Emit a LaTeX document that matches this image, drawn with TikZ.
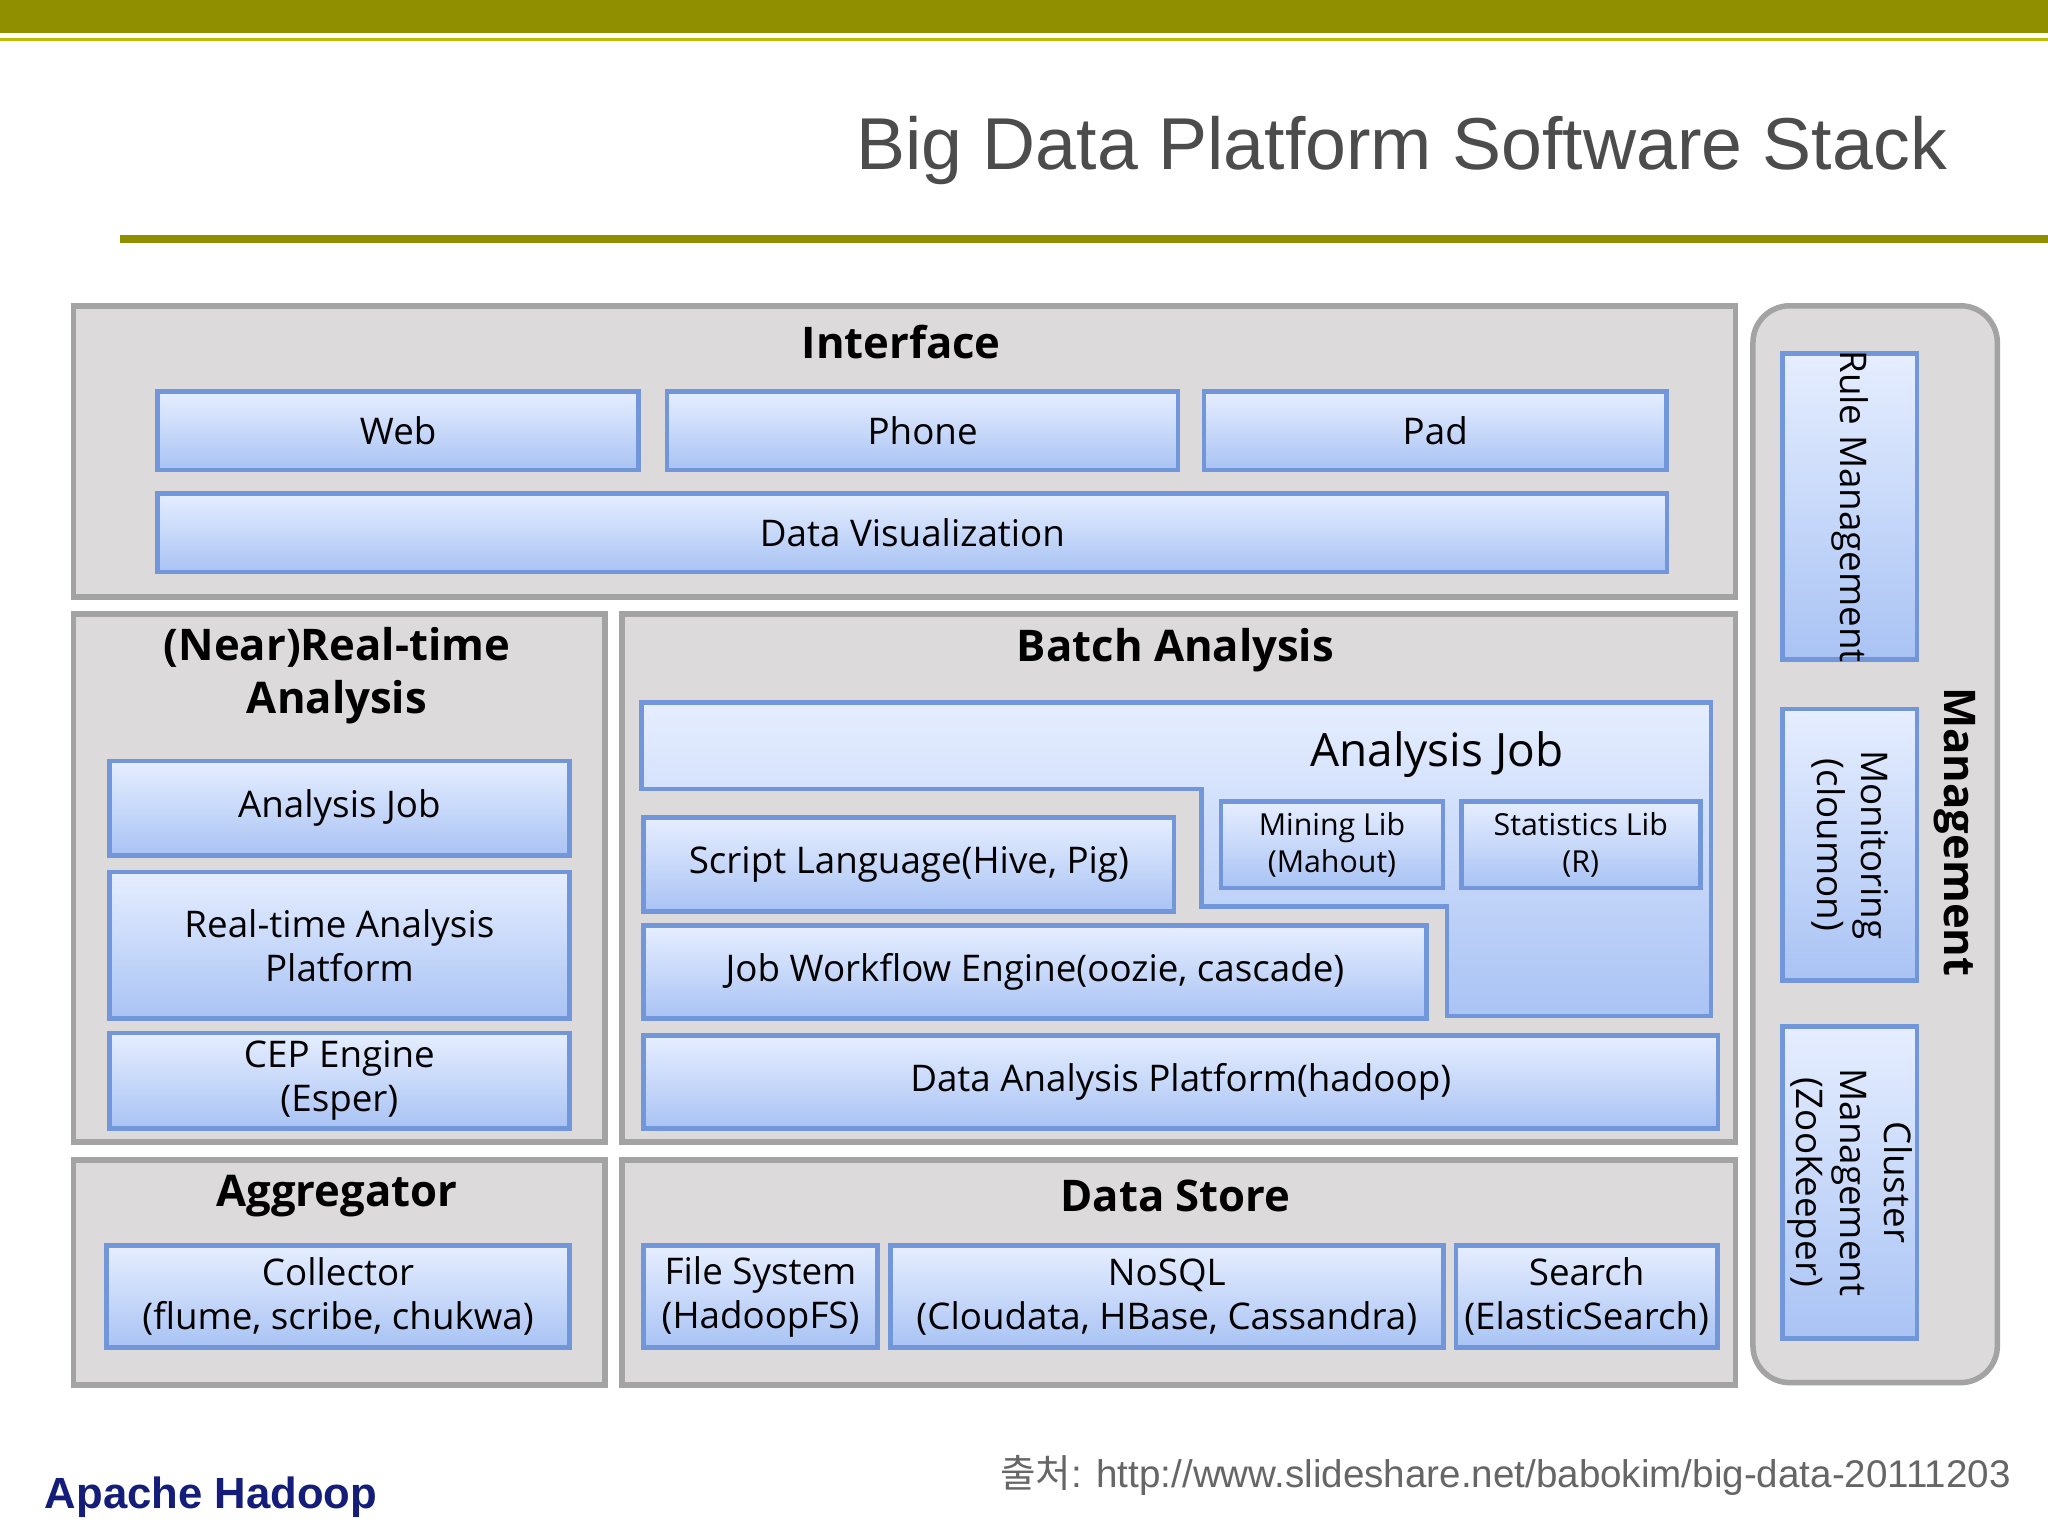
\documentclass[tikz,border=0pt]{standalone}
\usepackage{fontspec}
\setmainfont{Open Sans}
\newfontfamily\titlefont{Liberation Sans}
\newfontfamily\cjkfont{Noto Sans CJK KR}
\definecolor{olive}{HTML}{8F8F00}
\definecolor{panelfill}{HTML}{DCDADA}
\definecolor{panelline}{HTML}{A3A3A3}
\definecolor{boxtop}{HTML}{E6EEFF}
\definecolor{boxbot}{HTML}{A9C3F4}
\definecolor{boxline}{HTML}{7196DA}
\definecolor{navy}{HTML}{141E7A}
\tikzset{
 panel/.style={draw=panelline, line width=1.2pt, fill=panelfill, anchor=north west, inner sep=0pt},
 bx/.style={draw=boxline, line width=1pt, top color=boxtop, bottom color=boxbot, anchor=north west, align=center, inner sep=0pt, font=\fontsize{8}{9.6}\selectfont},
 ptitle/.style={font=\bfseries\fontsize{9.5}{11.5}\selectfont, align=center},
 small/.style={font=\fontsize{6.6}{8}\selectfont}
}
\begin{document}
\begin{tikzpicture}[x=0.01cm,y=-0.01cm]
\useasboundingbox (0,0) rectangle (1568,1176);
\fill[white] (0,0) rectangle (1568,1176);
\fill[olive] (0,0) rectangle (1568,25);
\draw[color=olive!60!yellow, line width=0.6pt] (0,30) -- (1568,30);
\node[anchor=east, font=\titlefont\fontsize{16}{19}\selectfont, text=black!70] (title) at (1503,115) {Big Data Platform Software Stack};
\draw[olive, line width=1.6pt] (92,183) -- (1568,183);
% Interface
\node[panel, minimum width=12.72cm, minimum height=2.23cm] (ifp) at (54,232) {};
\node[ptitle] (ift) at (690,262) {Interface};
\node[bx, minimum width=3.68cm, minimum height=0.6cm] (web) at (119,298) {Web};
\node[bx, minimum width=3.91cm, minimum height=0.6cm] (phone) at (509,298) {Phone};
\node[bx, minimum width=3.54cm, minimum height=0.6cm] (pad) at (920,298) {Pad};
\node[bx, minimum width=11.55cm, minimum height=0.6cm] (dv) at (119,376) {Data Visualization};
% Near real-time
\node[panel, minimum width=4.07cm, minimum height=4.04cm] (nrp) at (54,468) {};
\node[ptitle] (nrt) at (258,517) {(Near)Real-time\\Analysis};
\node[bx, minimum width=3.52cm, minimum height=0.72cm] (aj1) at (82,581) {Analysis Job};
\node[bx, minimum width=3.52cm, minimum height=1.12cm] (rta) at (82,666) {Real-time Analysis\\Platform};
\node[bx, minimum width=3.52cm, minimum height=0.73cm] (cep) at (82,789) {CEP Engine\\(Esper)};
% Batch
\node[panel, minimum width=8.52cm, minimum height=4.04cm] (bap) at (474,468) {};
\node[ptitle] (bat) at (900,498) {Batch Analysis};
\shade[top color=boxtop, bottom color=boxbot] (491,538) -- (1310,538) -- (1310,778) -- (1108,778) -- (1108,694) -- (920,694) -- (920,604) -- (491,604) -- cycle;
\draw[boxline, line width=1pt] (491,538) -- (1310,538) -- (1310,778) -- (1108,778) -- (1108,694) -- (920,694) -- (920,604) -- (491,604) -- cycle;
\node[font=\fontsize{10}{12}\selectfont] (aj2) at (1100,578) {Analysis Job};
\node[bx, small, minimum width=1.7cm, minimum height=0.66cm] (mine) at (933,612) {Mining Lib\\(Mahout)};
\node[bx, small, minimum width=1.83cm, minimum height=0.66cm] (stat) at (1117,612) {Statistics Lib\\(R)};
\node[bx, minimum width=4.06cm, minimum height=0.72cm] (script) at (491,624) {Script Language(Hive, Pig)};
\node[bx, minimum width=5.99cm, minimum height=0.71cm] (jwe) at (491,707) {Job Workflow Engine(oozie, cascade)};
\node[bx, minimum width=8.22cm, minimum height=0.71cm] (dap) at (491,791) {Data Analysis Platform(hadoop)};
% Aggregator
\node[panel, minimum width=4.07cm, minimum height=1.72cm] (agp) at (54,886) {};
\node[ptitle] (agt) at (258,916) {Aggregator};
\node[bx, minimum width=3.54cm, minimum height=0.78cm] (col) at (80,952) {Collector\\(flume, scribe, chukwa)};
% Data store
\node[panel, minimum width=8.52cm, minimum height=1.72cm] (dsp) at (474,886) {};
\node[ptitle] (dst) at (900,916) {Data Store};
\node[bx, minimum width=1.79cm, minimum height=0.78cm] (fs) at (491,952) {File System\\(HadoopFS)};
\node[bx, minimum width=4.23cm, minimum height=0.78cm] (nosql) at (680,952) {NoSQL\\(Cloudata, HBase, Cassandra)};
\node[bx, minimum width=2.0cm, minimum height=0.78cm] (search) at (1113,952) {Search\\(ElasticSearch)};
% Management
\node[panel, rounded corners=8pt, minimum width=1.87cm, minimum height=8.24cm] (mgp) at (1340,232) {};
\node[ptitle, rotate=-90] (mgt) at (1497,637) {Management};
\node[bx, minimum width=1.03cm, minimum height=2.34cm] (rule) at (1363,269) {};
\node[rotate=-90, font=\fontsize{8}{9.6}\selectfont] (rulet) at (rule.center) {Rule Management};
\node[bx, minimum width=1.03cm, minimum height=2.08cm] (mon) at (1363,541) {};
\node[rotate=-90, align=center, font=\fontsize{8}{9.6}\selectfont] (mont) at (mon.center) {Monitoring\\(cloumon)};
\node[bx, minimum width=1.03cm, minimum height=2.39cm] (clu) at (1363,784) {};
\node[rotate=-90, align=center, font=\fontsize{8}{9.6}\selectfont] (clut) at (clu.center) {Cluster\\Management\\(ZooKeeper)};
% Footer
\node[anchor=west, font=\titlefont\bfseries\fontsize{9.5}{11}\selectfont, text=navy] (ah) at (22,1146) {Apache Hadoop};
\node[anchor=east, font=\titlefont\fontsize{8.4}{10}\selectfont, text=black!60] (src) at (1552,1130) {{\cjkfont 출처}: http://www.slideshare.net/babokim/big-data-20111203};
\end{tikzpicture}
\end{document}
